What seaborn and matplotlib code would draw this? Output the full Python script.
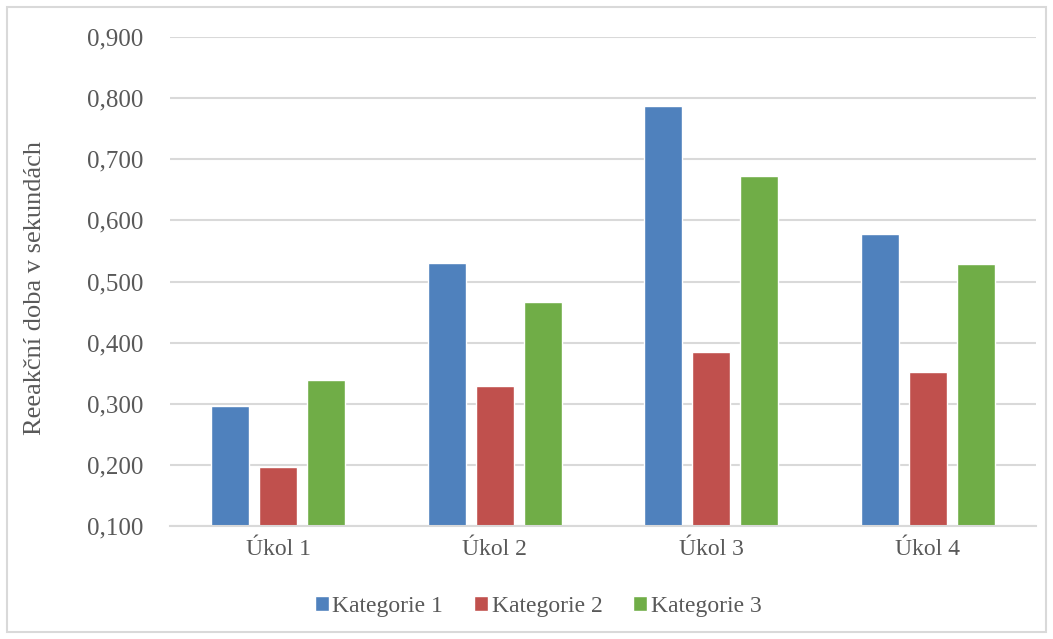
import pandas as pd
import matplotlib.pyplot as plt
import seaborn as sns
from matplotlib.patches import Rectangle

# Data
tasks = ['Úkol 1', 'Úkol 2', 'Úkol 3', 'Úkol 4']
categories = ['Kategorie 1', 'Kategorie 2', 'Kategorie 3']
kat1 = [0.296, 0.531, 0.788, 0.577]
kat2 = [0.197, 0.329, 0.385, 0.352]
kat3 = [0.339, 0.466, 0.673, 0.529]
colors = ['#4F81BD', '#C0504D', '#70AD47']
yticks = [0.1, 0.2, 0.3, 0.4, 0.5, 0.6, 0.7, 0.8, 0.9]

df = pd.DataFrame({
    'task': tasks * 3,
    'cat': [categories[0]] * 4 + [categories[1]] * 4 + [categories[2]] * 4,
    'value': kat1 + kat2 + kat3,
})

sns.set_theme(style='white')
plt.rcParams['font.family'] = ['Liberation Serif', 'DejaVu Serif']
text_color = '#595959'
grid_color = '#D9D9D9'

fig = plt.figure(figsize=(10.53, 6.39), dpi=100)
ax = fig.add_axes([0.1614, 0.1768, 0.8225, 0.7652])

sns.barplot(data=df, x='task', y='value', hue='cat', palette=colors,
            width=0.665, gap=0.21, saturation=1, ax=ax, legend=True)

ax.set_ylim(0.1, 0.9)
ax.set_xlim(-0.5, 3.5)
ax.set_yticks(yticks)
ax.set_yticklabels([f'{v:.3f}'.replace('.', ',') for v in yticks])
ax.yaxis.grid(True, color=grid_color, linewidth=1.5)
ax.set_axisbelow(True)
for side in ['top', 'right', 'left']:
    ax.spines[side].set_visible(False)
ax.spines['bottom'].set_color(grid_color)
ax.spines['bottom'].set_linewidth(1.5)
ax.tick_params(axis='y', length=0, labelsize=18, labelcolor=text_color, pad=19)
ax.tick_params(axis='x', length=0, labelsize=17, labelcolor=text_color, pad=9)
ax.set_xlabel('')
ax.set_ylabel('Reeakční doba v sekundách', fontsize=19, color=text_color)
ax.yaxis.set_label_coords(-0.143, 0.487)

handles, labels = ax.get_legend_handles_labels()
ax.get_legend().remove()
fig.legend(handles, labels, loc='center', bbox_to_anchor=(0.511, 0.051),
           ncol=3, frameon=False, fontsize=17, labelcolor=text_color,
           handlelength=0.6, handleheight=0.6, handletextpad=0.15, columnspacing=1.3)

# outer chart border
fig.patches.append(Rectangle((7 / 1053, 7 / 639), 1039 / 1053, 625 / 639,
                             transform=fig.transFigure, fill=False,
                             edgecolor=grid_color, linewidth=1.5))

fig.savefig('out.png', dpi=100)
